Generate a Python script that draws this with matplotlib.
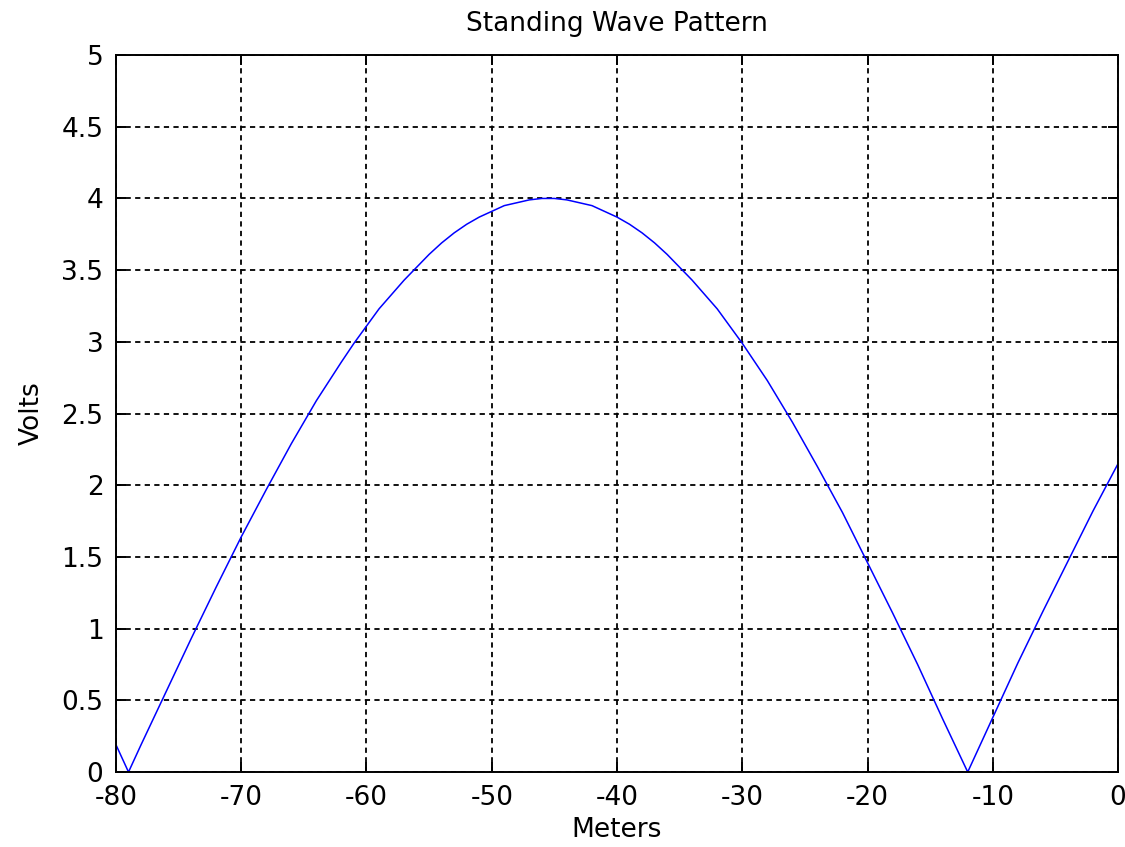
import matplotlib
matplotlib.use("Agg")
import matplotlib.pyplot as plt

# distance along the line (m) and standing wave amplitude (V)
meters = [-80, -79, -78, -76, -74, -72, -70, -68, -66, -64, -62, -61, -60, -59,
          -58, -57, -56, -55, -54, -53, -52, -51, -50, -49, -48, -47, -46, -45,
          -44, -43, -42, -41, -40, -39, -38, -37, -36, -35, -34, -33, -32, -31,
          -30, -28, -26, -24, -22, -20, -18, -16, -14, -12, -10, -8, -6, -4,
          -2, 0]
volts = [0.19, 0.0, 0.19, 0.56, 0.93, 1.29, 1.64, 1.97, 2.29, 2.59, 2.86, 2.99,
         3.11, 3.23, 3.33, 3.43, 3.52, 3.61, 3.69, 3.76, 3.82, 3.87, 3.91, 3.95,
         3.97, 3.99, 4.00, 4.00, 3.99, 3.97, 3.95, 3.91, 3.87, 3.82, 3.76, 3.69,
         3.61, 3.52, 3.43, 3.33, 3.23, 3.11, 2.99, 2.73, 2.44, 2.13, 1.81, 1.46,
         1.11, 0.75, 0.37, 0.0, 0.38, 0.76, 1.12, 1.47, 1.82, 2.15]

xticks = list(range(-80, 1, 10))
yticks = [0, 0.5, 1, 1.5, 2, 2.5, 3, 3.5, 4, 4.5, 5]
ytick_labels = ["0", "0.5", "1", "1.5", "2", "2.5", "3", "3.5", "4", "4.5", "5"]

plt.rcParams['font.family'] = ['DejaVu Sans']

fig = plt.figure(figsize=(11.25, 8.47), dpi=100)
ax = fig.add_axes([0.1031, 0.0885, 0.8907, 0.8465])

ax.plot(meters, volts, color=(0, 0, 1), linewidth=1.1)

ax.set_xlim(-80, 0)
ax.set_ylim(0, 5)
ax.set_xticks(xticks)
ax.set_xticklabels([str(t) for t in xticks])
ax.set_yticks(yticks)
ax.set_yticklabels(ytick_labels)

ax.grid(True, color='black', linewidth=1.3, linestyle=(0, (2.9, 2.4)))
ax.tick_params(direction='in', length=7, width=1.4, top=True, right=True,
               labelsize=19, colors='black')
ax.tick_params(axis='x', pad=9)
ax.tick_params(axis='y', pad=9)
for s in ax.spines.values():
    s.set_linewidth(1.4)

ax.set_title("Standing Wave Pattern", fontsize=19, pad=17)
ax.set_xlabel("Meters", fontsize=19, labelpad=5)
ax.set_ylabel("Volts", fontsize=19, labelpad=12)

fig.savefig("out.png", dpi=100)
